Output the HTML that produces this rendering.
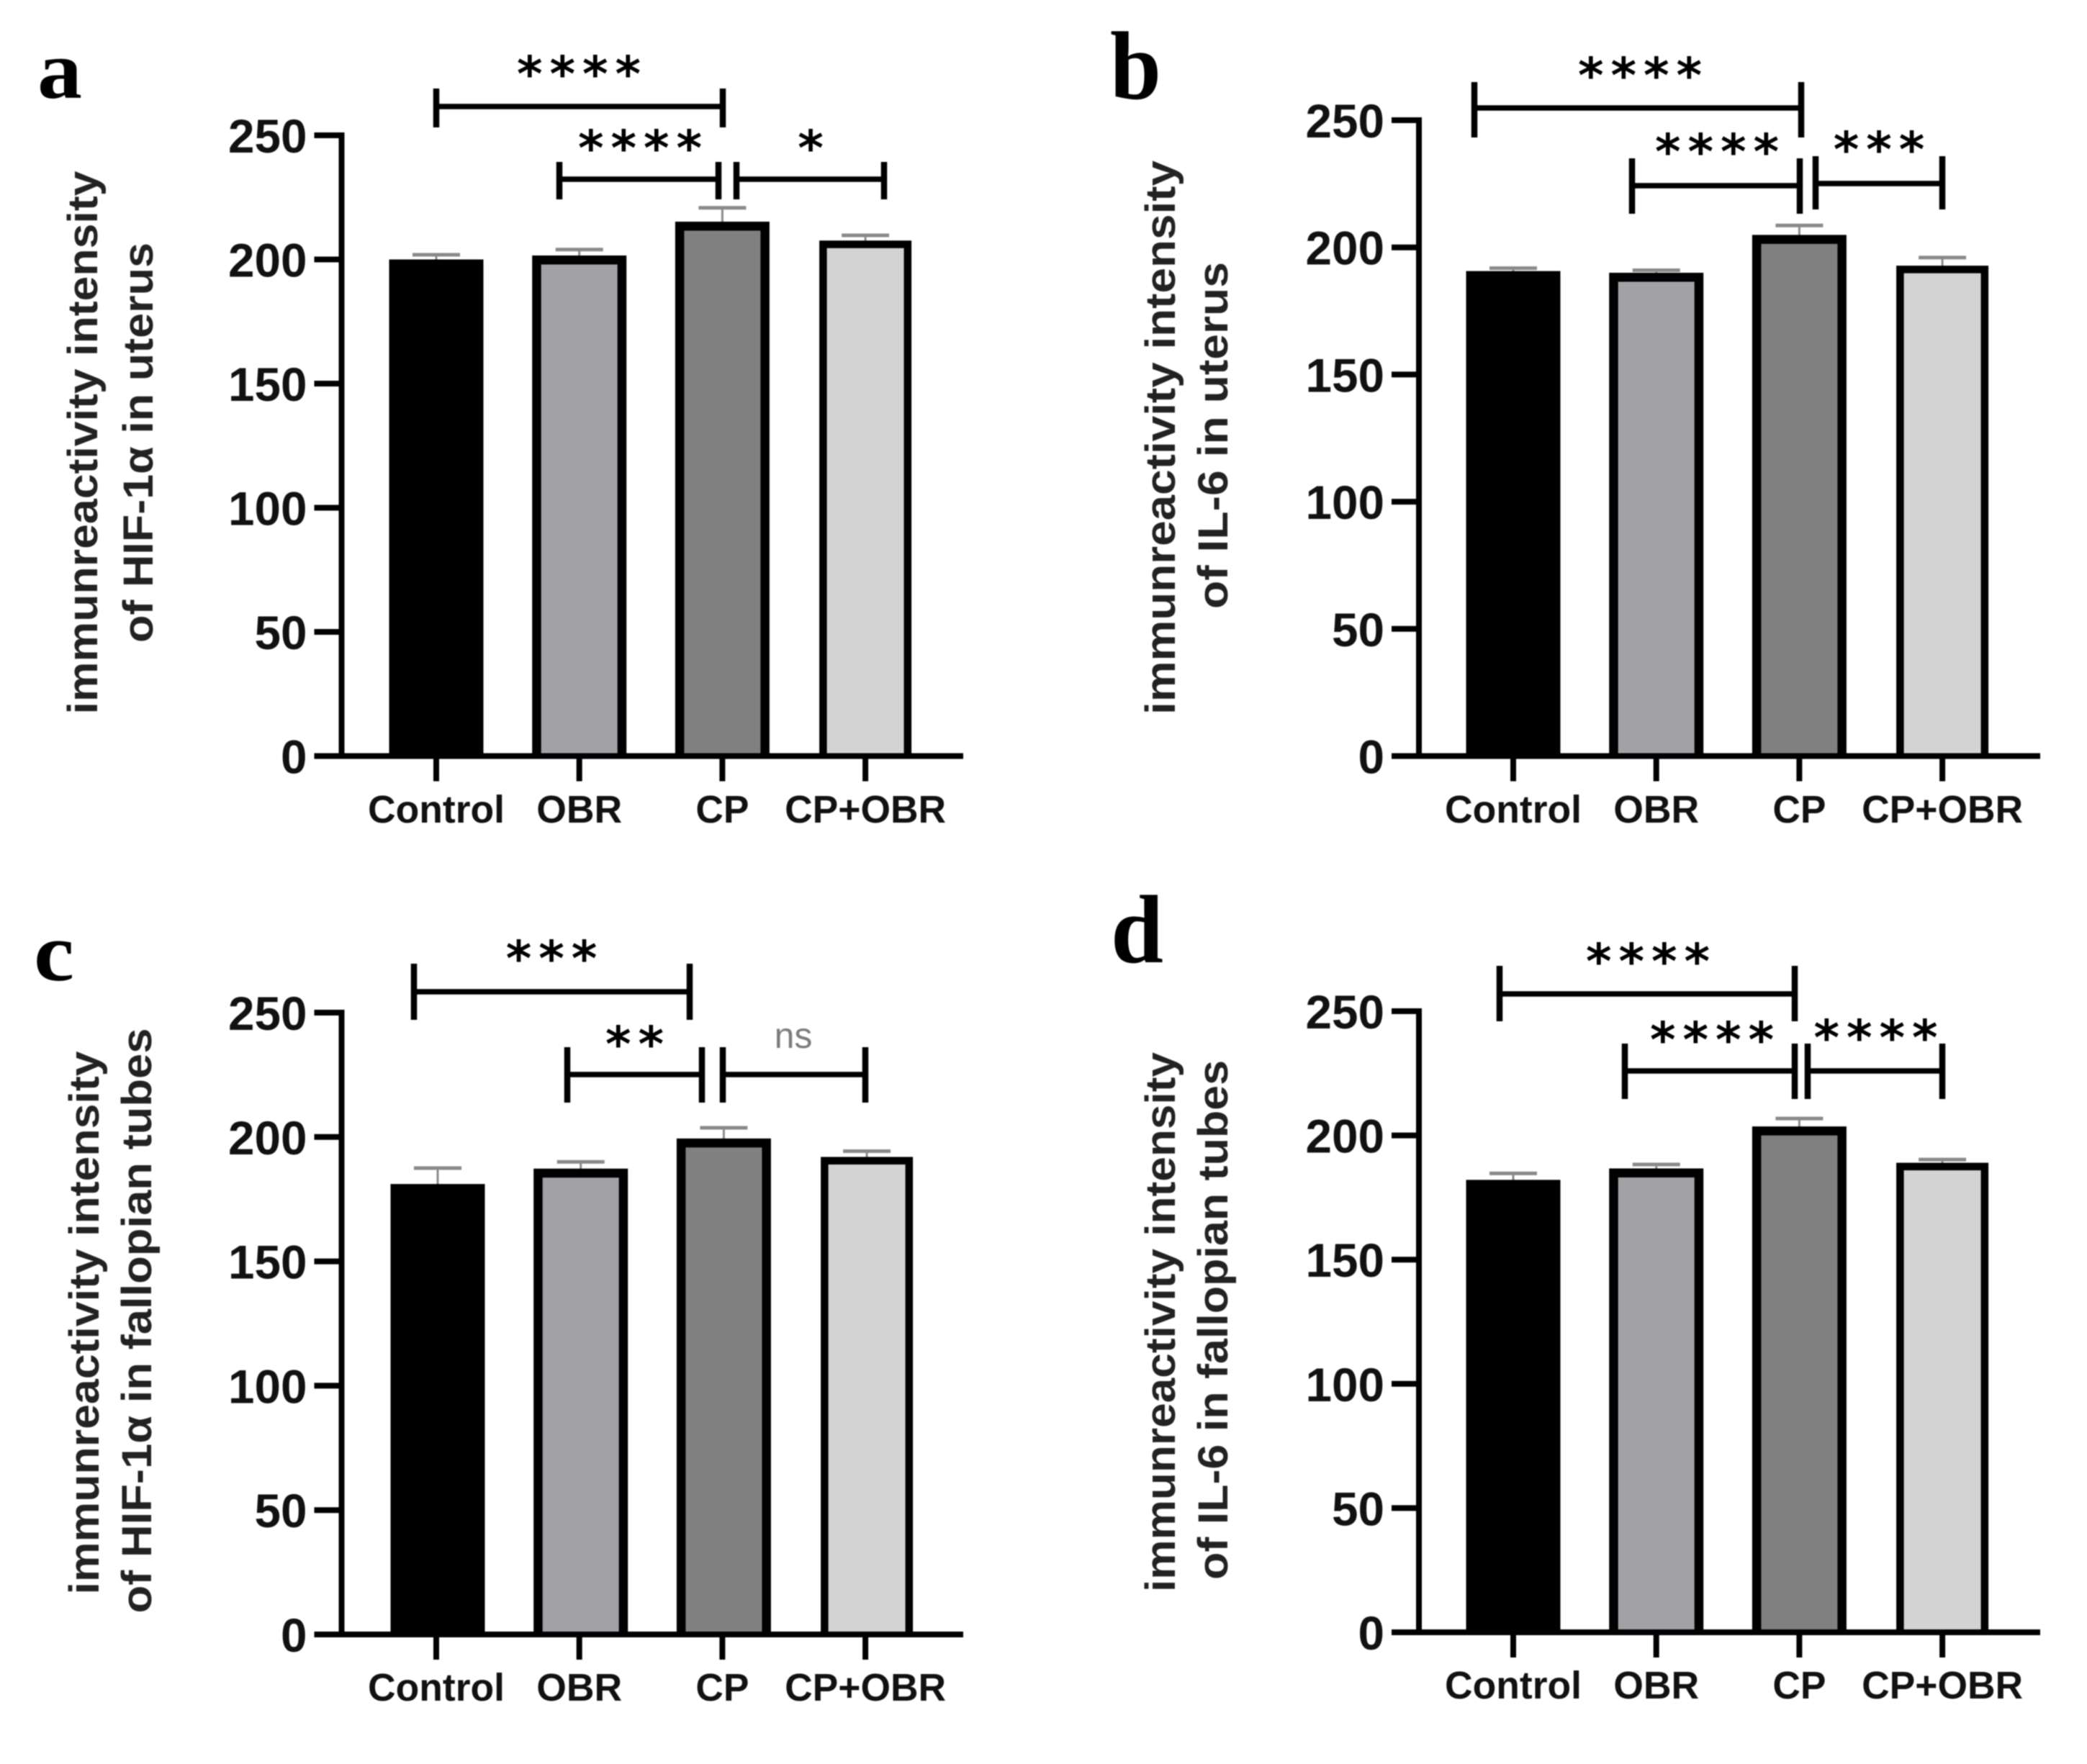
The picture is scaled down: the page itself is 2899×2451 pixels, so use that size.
<!DOCTYPE html>
<html lang="en">
<head>
<meta charset="utf-8">
<title>Immunreactivity intensity of HIF-1α and IL-6</title>
<style>
html,body{margin:0;padding:0;background:#fff;}
svg{display:block;filter:blur(0.7px);}
text{font-family:"Liberation Sans",Arial,sans-serif;font-weight:bold;fill:#111;}
.letter{font-family:"Liberation Serif","Noto Serif CJK SC",serif;fill:#000;}
.ytitle{font-size:58px;fill:#222;}
</style>
</head>
<body>
<svg id="figure" xmlns="http://www.w3.org/2000/svg" width="2899" height="2451" viewBox="0 0 2899 2451">
<rect x="0" y="0" width="2899" height="2451" fill="#fff"/>
<text class="letter" font-size="116" x="52" y="136" textLength="62" lengthAdjust="spacingAndGlyphs">a</text>
<text class="letter" font-size="135" x="1542" y="137" textLength="71" lengthAdjust="spacingAndGlyphs">b</text>
<text class="letter" font-size="116" x="47" y="1362" textLength="56" lengthAdjust="spacingAndGlyphs">c</text>
<text class="letter" font-size="135" x="1543" y="1337" textLength="73" lengthAdjust="spacingAndGlyphs">d</text>

<text class="ytitle" text-anchor="middle" transform="translate(135 615) rotate(-90)" textLength="755" lengthAdjust="spacingAndGlyphs">immunreactivity intensity</text>
<text class="ytitle" text-anchor="middle" transform="translate(212 615) rotate(-90)" textLength="556" lengthAdjust="spacingAndGlyphs">of HIF-1α in uterus</text>
<text class="ytitle" text-anchor="middle" transform="translate(1632 608) rotate(-90)" textLength="770" lengthAdjust="spacingAndGlyphs">immunreactivity intensity</text>
<text class="ytitle" text-anchor="middle" transform="translate(1705 605) rotate(-90)" textLength="482" lengthAdjust="spacingAndGlyphs">of IL-6 in uterus</text>
<text class="ytitle" text-anchor="middle" transform="translate(137 1838) rotate(-90)" textLength="755" lengthAdjust="spacingAndGlyphs">immunreactivity intensity</text>
<text class="ytitle" text-anchor="middle" transform="translate(210 1835) rotate(-90)" textLength="813" lengthAdjust="spacingAndGlyphs">of HIF-1α in fallopian tubes</text>
<text class="ytitle" text-anchor="middle" transform="translate(1632 1837) rotate(-90)" textLength="750" lengthAdjust="spacingAndGlyphs">immunreactivity intensity</text>
<text class="ytitle" text-anchor="middle" transform="translate(1705 1834) rotate(-90)" textLength="722" lengthAdjust="spacingAndGlyphs">of IL-6 in fallopian tubes</text>
</svg>
<script>
const categories = ['Control', 'OBR', 'CP', 'CP+OBR'];
const yTickLabels = [0, 50, 100, 150, 200, 250];
const barFills = ['#000000', '#a2a2a6', '#808080', '#d3d3d3'];

const panelAValues = [200.0, 201.6, 215.2, 207.6];
const panelAErrors = [201.9, 204.0, 220.8, 209.7];
const panelBValues = [190.7, 190.0, 204.9, 192.8];
const panelBErrors = [191.8, 191.0, 208.6, 196.0];
const panelCValues = [181.1, 187.3, 199.4, 192.0];
const panelCErrors = [187.5, 190.0, 203.7, 194.3];
const panelDValues = [182.1, 186.7, 203.6, 189.0];
const panelDErrors = [184.7, 188.3, 206.8, 190.3];

const svg = document.getElementById('figure');
const NS = 'http://www.w3.org/2000/svg';
const yMax = 250;

function make(tag, attrs, text) {
  const el = document.createElementNS(NS, tag);
  for (const k in attrs) el.setAttribute(k, attrs[k]);
  if (text !== undefined) el.textContent = text;
  svg.appendChild(el);
  return el;
}

function line(name, x1, y1, x2, y2, color, width) {
  const el = make('line', {x1: x1, y1: y1, x2: x2, y2: y2, stroke: color, 'stroke-width': width});
  
  
  return el;
}

function drawPanel(id, values, errors, axisX, axisEnd, y250, y0, firstTick, barShift, labelBaseline) {
  const yScale = v => y0 - (v / yMax) * (y0 - y250);
  const step = 198.7;
  const xScale = i => firstTick + i * step;

  categories.forEach((cat, i) => {
    const cx = xScale(i) + barShift;
    const narrow = i === 3;
    const w = narrow ? 128 : 131;
    const b = narrow ? 10.5 : 12.5;
    const top = yScale(values[i]);
    line('error-stem-' + id + '-' + i, cx, yScale(errors[i]), cx, top + 2, '#8a8a8a', 3);
    line('error-cap-' + id + '-' + i, cx - 33, yScale(errors[i]), cx + 33, yScale(errors[i]), '#8a8a8a', 5);
    const left = cx - w / 2 + b / 2;
    const right = cx + w / 2 - b / 2;
    const inner = top + b / 2;
    const bar = make('rect', {
      x: left,
      y: inner,
      width: right - left,
      height: y0 - inner,
      fill: barFills[i]
    });
    
    
    const outline = make('path', {
      d: 'M' + left + ' ' + y0 + 'V' + inner + 'H' + right + 'V' + y0,
      fill: 'none',
      stroke: '#000',
      'stroke-width': b
    });
    
    

    line('x-tick-' + id + '-' + i, xScale(i), y0, xScale(i), y0 + 35, '#000', 8);
    const w2 = {'Control': 190, 'OBR': 119, 'CP': 74, 'CP+OBR': 224}[cat];
    const lab = make('text', {
      x: xScale(i), y: labelBaseline, 'text-anchor': 'middle', 'font-size': 54,
      textLength: w2, lengthAdjust: 'spacingAndGlyphs'
    }, cat);
    
    
  });

  yTickLabels.forEach(t => {
    const y = yScale(t);
    line('y-tick-' + id + '-' + t, axisX - 38, y, axisX, y, '#000', 8);
    const s = String(t);
    const lab = make('text', {
      x: axisX - 48, y: y + 24, 'text-anchor': 'end', 'font-size': 66,
      textLength: s.length * 36.5, lengthAdjust: 'spacingAndGlyphs'
    }, s);
    
    
  });

  line('y-axis-' + id, axisX, y250 - 4, axisX, y0 + 4, '#000', 8);
  line('x-axis-' + id, axisX - 38, y0, axisEnd, y0, '#000', 8);
}

function bracket(name, x1, x2, y, v1, v2, left1, left2) {
  const a = left1 === undefined ? v1 : left1;
  const b = left2 === undefined ? v2 : left2;
  line(name + '-bar', x1, y, x2, y, '#000', 7.5);
  line(name + '-left-end', x1, a, x1, b, '#000', 8.5);
  line(name + '-right-end', x2, v1, x2, v2, '#000', 8.5);
}

function stars(name, count, cx, cy) {
  const gap = 45.5;
  const size = 68;
  const xs = [];
  for (let i = 0; i < count; i++) xs.push(cx + (i - (count - 1) / 2) * gap);
  const el = make('text', {
    x: xs.join(' '), y: cy + size * 0.48, 'text-anchor': 'middle', 'font-size': size,
    style: 'font-family:"DejaVu Sans",sans-serif;font-weight:bold;fill:#000'
  }, '*'.repeat(count));
  
  
}

drawPanel('a', panelAValues, panelAErrors, 474.5, 1338, 188, 1050.5, 606, 0, 1143);
drawPanel('b', panelBValues, panelBErrors, 1971, 2834, 167, 1050.5, 2102, 0, 1143);
drawPanel('c', panelCValues, panelCErrors, 474.5, 1338, 1407, 2271, 606, 2, 2363);
drawPanel('d', panelDValues, panelDErrors, 1971, 2834, 1405, 2268, 2102, 0, 2360);

bracket('bracket-a-control-cp', 606, 1004, 148, 123, 177);
stars('significance-a-control-cp', 4, 804, 94);
bracket('bracket-a-obr-cp', 777, 998, 249, 225, 277);
stars('significance-a-obr-cp', 4, 889, 197);
bracket('bracket-a-cp-combo', 1023, 1228, 249, 225, 277);
stars('significance-a-cp-combo', 1, 1126, 197);

bracket('bracket-b-control-cp', 2048, 2502, 150, 114, 191);
stars('significance-b-control-cp', 4, 2278, 96);
bracket('bracket-b-obr-cp', 2267, 2500, 258, 220, 297);
stars('significance-b-obr-cp', 4, 2385, 202);
bracket('bracket-b-cp-combo', 2522, 2698, 255, 217, 291);
stars('significance-b-cp-combo', 3, 2610, 199);

bracket('bracket-c-control-cp', 575, 958, 1378, 1339, 1417);
stars('significance-c-control-cp', 3, 766, 1323);
bracket('bracket-c-obr-cp', 788, 975, 1493, 1455, 1532);
stars('significance-c-obr-cp', 2, 881.5, 1442);
bracket('bracket-c-cp-combo', 1004, 1202, 1493, 1455, 1532);
const ns = make('text', {x: 1102, y: 1456, 'text-anchor': 'middle', 'font-size': 50, style: 'font-weight:normal;fill:#7c7c7c'}, 'ns');



bracket('bracket-d-control-cp', 2083, 2493, 1381, 1342, 1419);
stars('significance-d-control-cp', 4, 2289, 1327);
bracket('bracket-d-obr-cp', 2257, 2493, 1488, 1450, 1527);
stars('significance-d-obr-cp', 4, 2378, 1436);
bracket('bracket-d-cp-combo', 2511, 2698, 1488, 1450, 1527);
stars('significance-d-cp-combo', 4, 2605.5, 1433);
</script>
</body>
</html>
